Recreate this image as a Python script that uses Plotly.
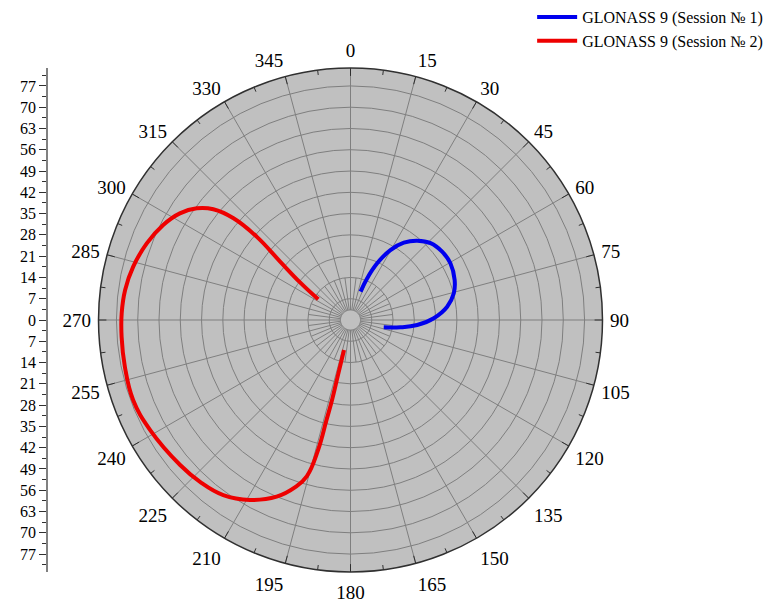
import numpy as np
import plotly.graph_objects as go

# ---- data (azimuth in degrees, radial value) ----
blue_az = [19.5, 21.8, 25.2, 29.7, 34.6, 40.1, 46.2, 53.3, 60.4, 69.0, 75.5, 82.2, 88.8, 94.3, 98.3, 102.4]
blue_r = [9.9, 14.8, 20.6, 26.5, 30.9, 34.1, 36.5, 37.6, 37.8, 36.7, 35.1, 32.1, 27.4, 22.0, 16.6, 11.2]

red_az = [302.7, 306.7, 309.7, 311.6, 311.0, 308.9, 306.0, 302.0, 296.9, 290.6, 283.8, 277.6, 271.7,
          265.8, 258.3, 249.8, 241.2, 229.6, 222.9, 216.0, 209.2, 202.7, 198.2, 195.6,
          194.0, 193.5, 193.0, 192.8, 192.2]
red_r = [12.6, 20.7, 30.1, 41.3, 51.0, 58.0, 62.5, 66.2, 69.1, 71.6, 73.6, 74.8, 75.3,
         75.5, 75.8, 76.2, 75.2, 73.6, 72.7, 71.2, 67.8, 63.0, 57.8, 53.3,
         44.0, 33.8, 27.0, 18.6, 10.1]

angle_ticks = list(range(0, 360, 15))
angle_labels = [str(a) for a in angle_ticks]
radial_ticks = [7, 14, 21, 28, 35, 42, 49, 56, 63, 70, 77]
left_ticks = [-77, -70, -63, -56, -49, -42, -35, -28, -21, -14, -7, 0, 7, 14, 21, 28, 35, 42, 49, 56, 63, 70, 77]
left_labels = [str(abs(v)) for v in left_ticks]

R_MAX = 82.9
R_HOLE = 3.3
BG = "#c0c0c0"
GRID = "#7f7f7f"
DARK = "#303030"
FONT = "Liberation Serif"

fig = go.Figure()

# central blank disc (covers spokes near the pole)
th = np.linspace(0, 360, 121)
fig.add_trace(go.Scatterpolar(r=[R_HOLE] * len(th), theta=th, mode="lines", fill="toself",
                              fillcolor=BG, line=dict(color=GRID, width=1),
                              showlegend=False, hoverinfo="skip"))

# fine inner spokes
sp_r, sp_t = [], []
for a in np.arange(7.5, 360, 15):
    sp_r += [R_HOLE, 14, None]
    sp_t += [a, a, None]
fig.add_trace(go.Scatterpolar(r=sp_r, theta=sp_t, mode="lines", line=dict(color=GRID, width=1),
                              showlegend=False, hoverinfo="skip"))

# inside ticks on the rim (major 15 deg, minor 7.5 deg)
mt_r, mt_t = [], []
for a in np.arange(0, 360, 7.5):
    ln = 2.6 if a % 15 == 0 else 1.6
    mt_r += [R_MAX - ln, R_MAX, None]
    mt_t += [a, a, None]
fig.add_trace(go.Scatterpolar(r=mt_r, theta=mt_t, mode="lines", line=dict(color=DARK, width=1),
                              showlegend=False, hoverinfo="skip"))

fig.add_trace(go.Scatterpolar(r=blue_r, theta=blue_az, mode="lines", name="GLONASS 9 (Session № 1)",
                              line=dict(color="#0000ee", width=4, shape="spline", smoothing=1.2)))
fig.add_trace(go.Scatterpolar(r=red_r, theta=red_az, mode="lines", name="GLONASS 9 (Session № 2)",
                              line=dict(color="#ee0000", width=4, shape="spline", smoothing=1.2)))

# left radial scale
fig.add_trace(go.Scatter(x=[None], y=[None], xaxis="x", yaxis="y", showlegend=False, hoverinfo="skip"))

fig.update_layout(
    template="none",
    width=772, height=602,
    margin=dict(l=0, r=0, t=0, b=0, pad=0, autoexpand=False),
    paper_bgcolor="white",
    plot_bgcolor="rgba(0,0,0,0)",
    font=dict(family=FONT, size=16, color="black"),
    polar=dict(
        domain=dict(x=[98.5 / 772, 602.5 / 772], y=[1 - 572 / 602, 1 - 68 / 602]),
        bgcolor=BG,
        angularaxis=dict(rotation=90, direction="clockwise", tickmode="array",
                         tickvals=angle_ticks, ticktext=angle_labels,
                         ticks="outside", ticklen=3, tickcolor="rgba(0,0,0,0)",
                         showline=True, linecolor=DARK, linewidth=1.5,
                         showgrid=True, gridcolor=GRID, gridwidth=1,
                         tickfont=dict(family=FONT, size=19, color="black")),
        radialaxis=dict(range=[0, R_MAX], tickmode="array", tickvals=radial_ticks,
                        showticklabels=False, ticks="", showline=False,
                        showgrid=True, gridcolor=GRID, gridwidth=1),
    ),
    xaxis=dict(domain=[0.06, 0.07], visible=False, range=[0, 1]),
    yaxis=dict(anchor="free", position=47 / 772, domain=[1 - 572 / 602, 1 - 68 / 602],
               automargin=False,
               range=[-R_MAX, R_MAX], tickmode="array", tickvals=left_ticks, ticktext=left_labels,
               ticks="outside", ticklen=7, tickcolor=DARK, tickwidth=1, showline=True, linecolor="#808080",
               linewidth=1.5, showgrid=False, zeroline=False,
               tickfont=dict(family=FONT, size=16, color="black"),
               minor=dict(dtick=3.5, tick0=0, ticks="outside", ticklen=4, tickcolor=DARK, showgrid=False)),
    legend=dict(x=0.995, y=1.0, xanchor="right", yanchor="top", bgcolor="rgba(0,0,0,0)",
                font=dict(family=FONT, size=16, color="black"), tracegroupgap=0, itemwidth=40,
                borderwidth=0),
    showlegend=True,
)

fig.write_html("out.html", config={"displayModeBar": False},
               post_script="document.body.style.margin='0';document.body.style.overflow='hidden';")
